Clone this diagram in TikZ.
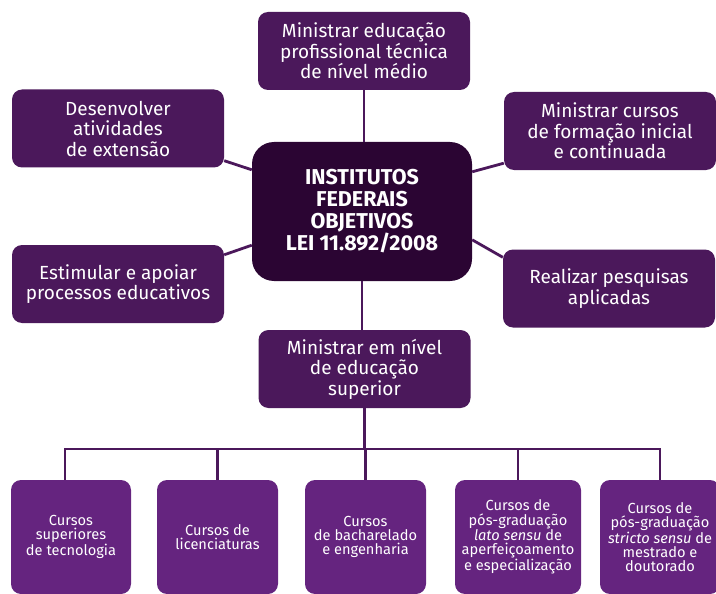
\documentclass[tikz,border=0pt]{standalone}
\usepackage{fontspec}
\setmainfont{Fira Sans}
\usetikzlibrary{calc}
\definecolor{upc}{HTML}{4B185B}
\definecolor{ctrc}{HTML}{2B0533}
\definecolor{botc}{HTML}{65247F}
\tikzset{
  upbox/.style={fill=upc, text=white, rounded corners=10pt, align=center, inner sep=0pt,
    minimum width=212pt, minimum height=78pt, font=\fontsize{19}{20.5}\selectfont},
  ctrbox/.style={fill=ctrc, text=white, rounded corners=22pt, align=center, inner sep=0pt,
    minimum width=220pt, minimum height=139pt, font=\fontsize{21.5}{22}\selectfont\bfseries},
  botbox/.style={fill=botc, text=white, rounded corners=10pt, align=center, inner sep=0pt,
    minimum height=114pt, font=\fontsize{14.6}{14.2}\selectfont},
  conn/.style={draw=upc, line width=2.8pt},
}
\begin{document}
\begin{tikzpicture}[x=1pt, y=-1pt]
\useasboundingbox (0,0) rectangle (716,594);
% upper nodes
\node[upbox] (top) at (364,51) {Ministrar educação\\profissional técnica\\de nível médio};
\node[upbox] (des) at (118,128.5) {Desenvolver\\atividades\\de extensão};
\node[upbox] (mc) at (610,131) {Ministrar cursos\\de formação inicial\\e continuada};
\node[ctrbox] (ctr) at (362,211.5) {INSTITUTOS\\FEDERAIS\\OBJETIVOS\\LEI 11.892/2008};
\node[upbox] (est) at (118,284) {Estimular e apoiar\\processos educativos};
\node[upbox] (real) at (609,288.5) {Realizar pesquisas\\aplicadas};
\node[upbox] (sup) at (364.5,369) {Ministrar em nível\\de educação\\superior};
% bottom nodes
\node[botbox, minimum width=120pt] (b1) at (71,537) {Cursos\\superiores\\de tecnologia};
\node[botbox, minimum width=121pt] (b2) at (217.5,537) {Cursos de\\licenciaturas};
\node[botbox, minimum width=121pt] (b3) at (365.5,537) {Cursos\\de bacharelado\\e engenharia};
\node[botbox, minimum width=126pt] (b4) at (518,537) {Cursos de\\pós-graduação\\\textit{lato sensu} de\\aperfeiçoamento\\e especialização};
\node[botbox, minimum width=120pt] (b5) at (660,537) {Cursos de\\pós-graduação\\\textit{stricto sensu} de\\mestrado e\\doutorado};
% connectors
\draw[conn] (top.south) -- (top.south |- ctr.north);
\draw[conn] (ctr.south) -- (ctr.south |- sup.north);
\draw[conn] ($(des.south east)+(0,-7)$) -- ($(ctr.north west)+(0,28)$);
\draw[conn] ($(est.north east)+(0,10)$) -- ($(ctr.south west)+(0,-36)$);
\draw[conn] ($(mc.south west)+(0,-7)$) -- ($(ctr.north east)+(0,30)$);
\draw[conn] ($(real.north west)+(0,8)$) -- ($(ctr.north east)+(0,98)$);
\coordinate (bus) at (364.5,449);
\draw[conn] (sup.south) -- (bus);
\draw[conn] ($(b1.north)+(-6,0)$) -- ($(b1.north |- bus)+(-6,0)$) -- (b5.north |- bus) -- (b5.north);
\draw[conn] (b2.north) -- (b2.north |- bus);
\draw[conn] (b3.north) -- (b3.north |- bus);
\draw[conn] (b4.north) -- (b4.north |- bus);
\end{tikzpicture}
\end{document}
